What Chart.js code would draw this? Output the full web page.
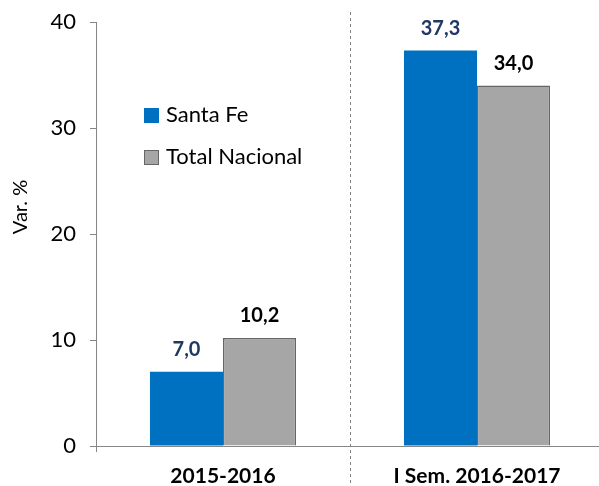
<!DOCTYPE html>
<html>
<head>
<meta charset="utf-8">
<script src="https://cdn.jsdelivr.net/npm/chart.js@4.4.1/dist/chart.umd.min.js"></script>
<style>
  html, body { margin: 0; padding: 0; background: #fff; overflow: hidden; }
  #wrap { width: 606px; height: 486px; }
</style>
</head>
<body>
<div id="wrap"><canvas id="c" width="606" height="486"></canvas></div>
<script>
const categories = ["2015-2016", "I Sem. 2016-2017"];
const seriesNames = ["Santa Fe", "Total Nacional"];
const santaFe = [7.0, 37.3];
const totalNacional = [10.2, 34.0];
const yTicks = [0, 10, 20, 30, 40];
const yTitle = "Var. %";

const FONT = "Lato, 'Liberation Sans', sans-serif";
const BLUE = "#0070C0";
const GRAY = "#A6A6A6";

const labelsPlugin = {
  id: "barLabels",
  afterDatasetsDraw(chart) {
    const ctx = chart.ctx;
    const colors = ["#1F3864", "#000000"];
    chart.data.datasets.forEach((ds, di) => {
      const meta = chart.getDatasetMeta(di);
      meta.data.forEach((bar, i) => {
        ctx.save();
        ctx.font = "bold 20px " + FONT;
        ctx.fillStyle = colors[di];
        ctx.textAlign = "center";
        ctx.textBaseline = "middle";
        ctx.fillText(ds.data[i].toFixed(1).replace(".", ","), bar.x, bar.y - 22);
        ctx.restore();
      });
    });
  }
};

const extrasPlugin = {
  id: "extras",
  afterDraw(chart) {
    const ctx = chart.ctx;
    const x = chart.scales.x;
    const sep = (x.getPixelForValue(0) + x.getPixelForValue(1)) / 2;
    ctx.save();
    ctx.strokeStyle = "#808080";
    ctx.lineWidth = 1;
    ctx.setLineDash([3, 3]);
    ctx.beginPath();
    ctx.moveTo(Math.round(sep) + 0.5, 12);
    ctx.lineTo(Math.round(sep) + 0.5, 486);
    ctx.stroke();
    ctx.restore();

    // y title
    ctx.save();
    ctx.translate(21, 207);
    ctx.rotate(-Math.PI / 2);
    ctx.font = "20px " + FONT;
    ctx.fillStyle = "#000";
    ctx.textAlign = "center";
    ctx.textBaseline = "middle";
    ctx.fillText(yTitle, 0, 0);
    ctx.restore();

    // legend
    const items = [
      { name: seriesNames[0], fill: BLUE, stroke: null, y: 115 },
      { name: seriesNames[1], fill: GRAY, stroke: "#666666", y: 157 }
    ];
    ctx.save();
    ctx.font = "22px " + FONT;
    ctx.textBaseline = "middle";
    ctx.textAlign = "left";
    items.forEach(it => {
      ctx.fillStyle = it.fill;
      ctx.fillRect(144, it.y - 7, 15, 15);
      if (it.stroke) {
        ctx.strokeStyle = it.stroke;
        ctx.lineWidth = 1;
        ctx.strokeRect(144.5, it.y - 6.5, 14, 14);
      }
      ctx.fillStyle = "#000";
      ctx.fillText(it.name, 166, it.y);
    });
    ctx.restore();
  }
};

new Chart(document.getElementById("c"), {
  type: "bar",
  data: {
    labels: categories,
    datasets: [
      { label: seriesNames[0], data: santaFe, backgroundColor: BLUE, borderWidth: 0,
        categoryPercentage: 0.575, barPercentage: 1 },
      { label: seriesNames[1], data: totalNacional, backgroundColor: GRAY, borderColor: "#666666",
        borderWidth: 1.5, categoryPercentage: 0.575, barPercentage: 1 }
    ]
  },
  options: {
    responsive: false,
    animation: false,
    devicePixelRatio: 1,
    layout: { padding: { top: 22, left: 0, right: 2, bottom: 0 } },
    plugins: { legend: { display: false }, tooltip: { enabled: false } },
    scales: {
      x: {
        afterFit(s) { s.height = 40; },
        grid: {
          offset: true, drawOnChartArea: false, tickLength: 6,
          color: (c) => c.index === 1 ? "rgba(0,0,0,0)" : "#868686"
        },
        border: { display: true, color: "#868686", width: 1 },
        ticks: { color: "#000", font: { family: FONT, size: 21, weight: "bold" }, padding: 12 }
      },
      y: {
        min: 0, max: 40,
        afterFit(s) { s.width = 96; s.paddingTop = 0; s.paddingBottom = 0; },
        afterBuildTicks(s) { s.ticks = yTicks.map(v => ({ value: v })); },
        grid: { drawOnChartArea: false, tickLength: 6, color: "#868686" },
        border: { display: true, color: "#868686", width: 1 },
        ticks: { color: "#000", font: { family: FONT, size: 22 }, padding: 14 }
      }
    }
  },
  plugins: [labelsPlugin, extrasPlugin]
});
</script>
</body>
</html>
